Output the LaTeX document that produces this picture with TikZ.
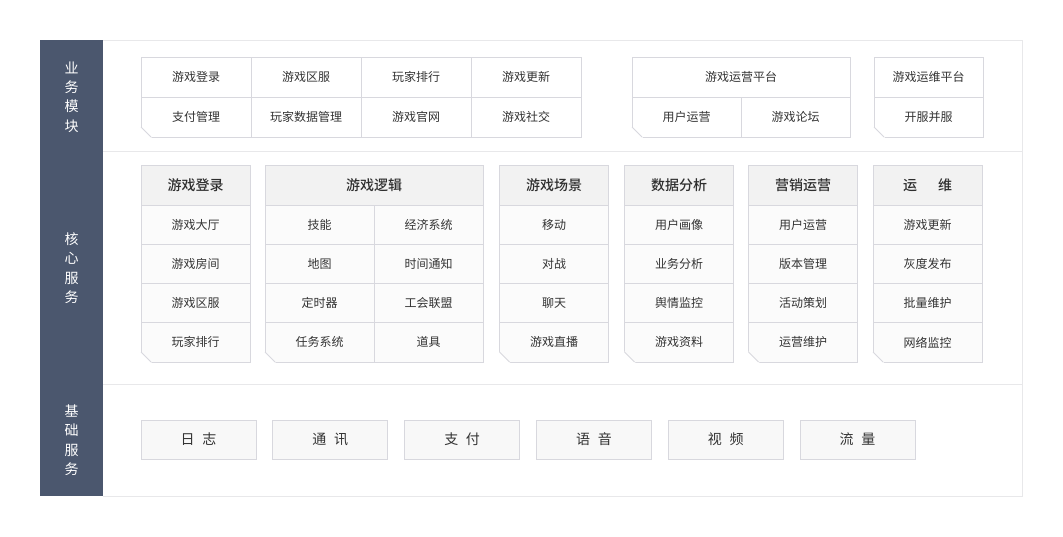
\documentclass[tikz,border=0pt]{standalone}
\usepackage{fontspec}
\usepackage{tikz}
\usetikzlibrary{positioning}
\newfontfamily\cjk[BoldFont={Noto Sans CJK SC Medium}]{Noto Sans CJK SC}
\newdimen\px \px=0.75pt
\definecolor{barblue}{RGB}{75,87,110}
\definecolor{frameline}{RGB}{232,232,234}
\definecolor{cellline}{RGB}{216,216,222}
\definecolor{headfill}{RGB}{242,242,242}
\definecolor{itemfill}{RGB}{251,251,251}
\definecolor{basefill}{RGB}{248,248,248}
\definecolor{txt}{RGB}{51,51,51}
% folded bottom-left corner of a group of cells
\newcommand\cutcorner[1]{%
  \fill[white,shift={(#1.south west)}] (-1,1) -- (11,1) -- (-1,-11) -- cycle;
  \draw[cellline,shift={(#1.south west)}] (0,-10) -- (10,0);}

\begin{document}
\begin{tikzpicture}[x=0.75pt,y=-0.75pt,line width=1\px,node distance=0pt,
    every node/.style={font=\cjk\fontsize{9}{11}\selectfont,text=txt,
                       inner sep=0pt,outer sep=0pt}]
\tikzstyle{topcell}=[draw=cellline,fill=white,minimum width=110\px,minimum height=40\px]
\tikzstyle{headcell}=[draw=cellline,fill=headfill,minimum width=109\px,minimum height=40\px,
                      font=\cjk\bfseries\fontsize{10.5}{12}\selectfont,text=black!82]
\tikzstyle{itemcell}=[draw=cellline,fill=itemfill,minimum width=109\px,minimum height=39.25\px]
\tikzstyle{basecell}=[draw=cellline,fill=basefill,minimum width=115\px,minimum height=39\px,
                      font=\cjk\fontsize{10.5}{12}\selectfont]
\tikzstyle{sidelabel}=[text=white,font=\cjk\fontsize{10.5}{14.6}\selectfont,align=center]
\useasboundingbox (0,0) rectangle (1063,536);
% frame and side bar
\fill[barblue] (40,40) rectangle (103,496);
\draw[frameline] (103,40) -- (1022,40) -- (1022,496) -- (103,496);
\draw[frameline] (103,151) -- (1022,151);
\draw[frameline] (103,384) -- (1022,384);
\node[sidelabel] (bizlabel) at (71.5,97) {业\\务\\模\\块};
\node[sidelabel] (corelabel) at (71.5,268) {核\\心\\服\\务};
\node[sidelabel] (baselabel) at (71.5,440) {基\\础\\服\\务};
% business modules
\node[topcell] (login) at (196,77) {游戏登录};
\node[topcell,right=of login] (zone) {游戏区服};
\node[topcell,right=of zone] (rank) {玩家排行};
\node[topcell,right=of rank] (update) {游戏更新};
\node[topcell,below=of login] (pay) {支付管理};
\node[topcell,right=of pay] (playerdata) {玩家数据管理};
\node[topcell,right=of playerdata] (site) {游戏官网};
\node[topcell,right=of site] (social) {游戏社交};
\cutcorner{pay}
\node[topcell,minimum width=218\px] (opsplat) at (741,77) {游戏运营平台};
\node[topcell,minimum width=109\px] (userops) at (686.5,117) {用户运营};
\node[topcell,minimum width=109\px,right=of userops] (forum) {游戏论坛};
\cutcorner{userops}
\node[topcell,minimum width=109\px] (maintplat) at (928.5,77) {游戏运维平台};
\node[topcell,minimum width=109\px,below=of maintplat] (openserv) {开服并服};
\cutcorner{openserv}
% core services
\node[headcell] (corelogin) at (195.5,185) {游戏登录};
\node[itemcell,below=of corelogin] (hall) {游戏大厅};
\node[itemcell,below=of hall] (room) {游戏房间};
\node[itemcell,below=of room] (corezone) {游戏区服};
\node[itemcell,below=of corezone] (corerank) {玩家排行};
\cutcorner{corerank}
\node[headcell,minimum width=218\px] (logic) at (374,185) {游戏逻辑};
\node[itemcell,below=of logic.south west,anchor=north west] (skill) {技能};
\node[itemcell,right=of skill] (economy) {经济系统};
\node[itemcell,below=of skill] (map) {地图};
\node[itemcell,right=of map] (notice) {时间通知};
\node[itemcell,below=of map] (timer) {定时器};
\node[itemcell,right=of timer] (guild) {工会联盟};
\node[itemcell,below=of timer] (quest) {任务系统};
\node[itemcell,right=of quest] (props) {道具};
\cutcorner{quest}
\node[headcell] (scene) at (554,185) {游戏场景};
\node[itemcell,below=of scene] (move) {移动};
\node[itemcell,below=of move] (battle) {对战};
\node[itemcell,below=of battle] (chat) {聊天};
\node[itemcell,below=of chat] (live) {游戏直播};
\cutcorner{live}
\node[headcell] (data) at (679,185) {数据分析};
\node[itemcell,below=of data] (profile) {用户画像};
\node[itemcell,below=of profile] (bizana) {业务分析};
\node[itemcell,below=of bizana] (opinion) {舆情监控};
\node[itemcell,below=of opinion] (gamedata) {游戏资料};
\cutcorner{gamedata}
\node[headcell] (market) at (803,185) {营销运营};
\node[itemcell,below=of market] (userrun) {用户运营};
\node[itemcell,below=of userrun] (version) {版本管理};
\node[itemcell,below=of version] (event) {活动策划};
\node[itemcell,below=of event] (runmaint) {运营维护};
\cutcorner{runmaint}
\node[headcell] (ops) at (927.5,185) {运\hspace{1.5em}维};
\node[itemcell,below=of ops] (gameupd) {游戏更新};
\node[itemcell,below=of gameupd] (gray) {灰度发布};
\node[itemcell,below=of gray] (batch) {批量维护};
\node[itemcell,below=of batch] (netmon) {网络监控};
\cutcorner{netmon}
% base services
\node[basecell] (log) at (198.5,439.5) {日\hspace{0.55em}志};
\node[basecell,right=16.8\px of log] (comm) {通\hspace{0.55em}讯};
\node[basecell,right=16.8\px of comm] (payment) {支\hspace{0.55em}付};
\node[basecell,right=16.8\px of payment] (voice) {语\hspace{0.55em}音};
\node[basecell,right=16.8\px of voice] (video) {视\hspace{0.55em}频};
\node[basecell,right=16.8\px of video] (traffic) {流\hspace{0.55em}量};
\end{tikzpicture}
\end{document}
